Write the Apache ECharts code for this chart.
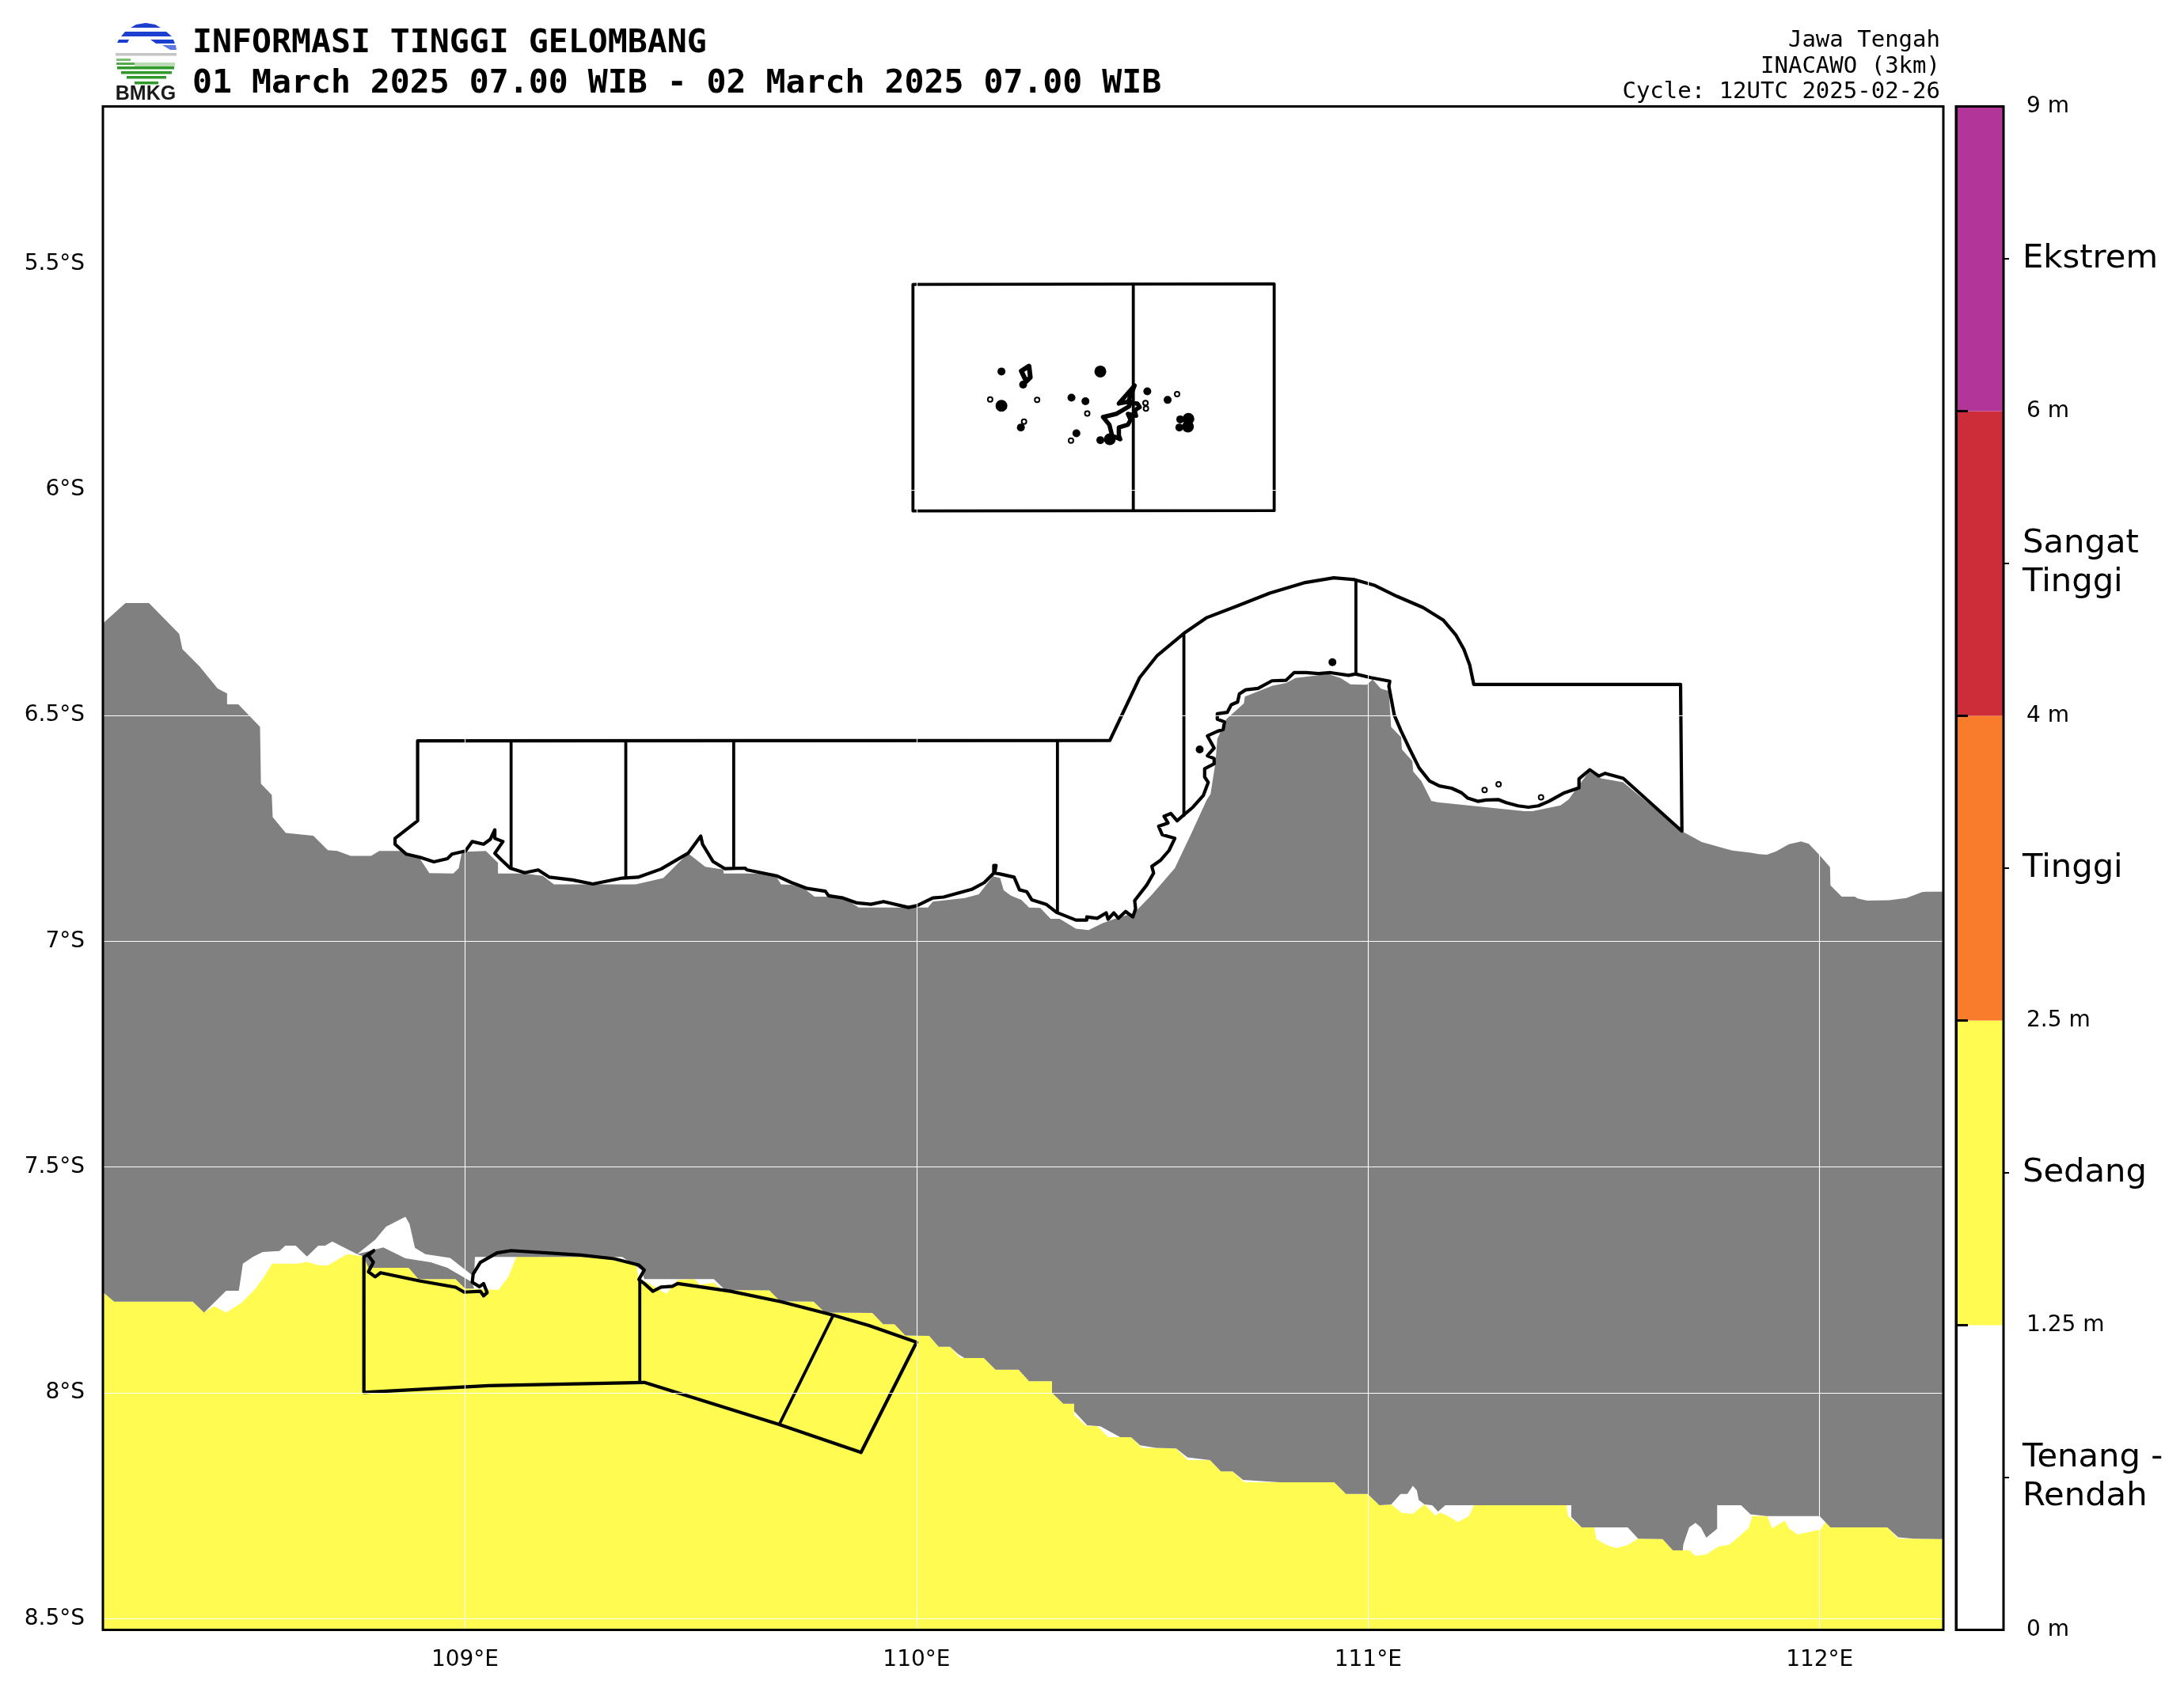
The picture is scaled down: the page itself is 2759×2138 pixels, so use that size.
<!DOCTYPE html>
<html>
<head>
<meta charset="utf-8">
<style>html,body{margin:0;padding:0;background:#fff}#chart{width:2759px;height:2138px}</style>
<script src="https://cdn.jsdelivr.net/npm/echarts@6/dist/echarts.min.js"></script>
</head>
<body>
<div id="chart"></div>
<script>
const lonMin = 108.198, lonMax = 112.274, latMin = -8.525, latMax = -5.151;
const lonTicks = [109, 110, 111, 112];
const latTicks = [-8.5, -8, -7.5, -7, -6.5, -6, -5.5];
const classNames = ['Tenang -\nRendah', 'Sedang', 'Tinggi', 'Sangat\nTinggi', 'Ekstrem'];
const classColors = ['#ffffff', '#FFFB50', '#F97C2C', '#CD2C39', '#B2359A'];
const levelLabels = ['0 m', '1.25 m', '2.5 m', '4 m', '6 m', '9 m'];

const grayNorthEdge = [[108.198,-6.296],[108.248,-6.251],[108.300,-6.251],[108.367,-6.319],[108.374,-6.353],[108.412,-6.391],[108.452,-6.440],[108.473,-6.451],[108.473,-6.475],[108.498,-6.475],[108.546,-6.525],[108.548,-6.651],[108.572,-6.676],[108.574,-6.725],[108.603,-6.760],[108.664,-6.766],[108.696,-6.798],[108.717,-6.800],[108.747,-6.811],[108.792,-6.811],[108.810,-6.800],[108.860,-6.800],[108.900,-6.817],[108.921,-6.849],[108.974,-6.850],[108.986,-6.838],[108.993,-6.802],[109.046,-6.800],[109.073,-6.826],[109.073,-6.850],[109.132,-6.850],[109.172,-6.855],[109.197,-6.874],[109.378,-6.874],[109.439,-6.860],[109.494,-6.805],[109.532,-6.835],[109.572,-6.841],[109.573,-6.850],[109.685,-6.850],[109.700,-6.874],[109.723,-6.875],[109.751,-6.883],[109.774,-6.901],[109.805,-6.901],[109.841,-6.905],[109.872,-6.925],[110.025,-6.925],[110.036,-6.912],[110.107,-6.904],[110.138,-6.896],[110.169,-6.856],[110.185,-6.860],[110.193,-6.887],[110.209,-6.899],[110.232,-6.908],[110.249,-6.925],[110.274,-6.926],[110.297,-6.950],[110.317,-6.950],[110.353,-6.972],[110.381,-6.975],[110.412,-6.960],[110.439,-6.950],[110.482,-6.937],[110.522,-6.896],[110.572,-6.838],[110.608,-6.762],[110.643,-6.686],[110.651,-6.674],[110.662,-6.604],[110.666,-6.552],[110.686,-6.508],[110.725,-6.473],[110.727,-6.458],[110.788,-6.434],[110.819,-6.428],[110.839,-6.417],[110.912,-6.408],[110.939,-6.417],[110.961,-6.431],[110.997,-6.432],[111.010,-6.420],[111.028,-6.440],[111.046,-6.446],[111.051,-6.525],[111.073,-6.548],[111.075,-6.575],[111.098,-6.601],[111.100,-6.624],[111.118,-6.645],[111.140,-6.689],[111.154,-6.692],[111.346,-6.712],[111.364,-6.712],[111.426,-6.699],[111.444,-6.686],[111.489,-6.624],[111.516,-6.639],[111.565,-6.648],[111.695,-6.756],[111.739,-6.780],[111.792,-6.795],[111.807,-6.799],[111.848,-6.804],[111.865,-6.807],[111.883,-6.808],[111.903,-6.801],[111.932,-6.785],[111.959,-6.779],[111.976,-6.784],[111.999,-6.808],[112.023,-6.836],[112.024,-6.876],[112.049,-6.901],[112.078,-6.901],[112.084,-6.905],[112.105,-6.910],[112.154,-6.909],[112.192,-6.904],[112.227,-6.891],[112.236,-6.890],[112.274,-6.890]];

const graySouthEdge = [[108.198,-7.777],[108.223,-7.798],[108.397,-7.798],[108.422,-7.822],[108.471,-7.774],[108.499,-7.774],[108.508,-7.714],[108.530,-7.699],[108.552,-7.688],[108.589,-7.686],[108.602,-7.674],[108.625,-7.674],[108.650,-7.698],[108.675,-7.674],[108.690,-7.674],[108.706,-7.665],[108.761,-7.693],[108.801,-7.661],[108.825,-7.632],[108.868,-7.610],[108.877,-7.626],[108.889,-7.679],[108.912,-7.693],[108.967,-7.701],[109.020,-7.743],[109.022,-7.699],[109.348,-7.699],[109.391,-7.728],[109.397,-7.748],[109.551,-7.748],[109.576,-7.772],[109.674,-7.773],[109.698,-7.797],[109.772,-7.798],[109.797,-7.822],[109.902,-7.823],[109.926,-7.848],[109.951,-7.848],[109.975,-7.873],[110.028,-7.874],[110.049,-7.898],[110.074,-7.898],[110.092,-7.914],[110.106,-7.923],[110.149,-7.923],[110.175,-7.949],[110.226,-7.949],[110.249,-7.974],[110.300,-7.974],[110.300,-8.000],[110.325,-8.024],[110.349,-8.024],[110.349,-8.041],[110.378,-8.072],[110.407,-8.074],[110.451,-8.098],[110.475,-8.098],[110.495,-8.116],[110.530,-8.122],[110.575,-8.123],[110.600,-8.143],[110.650,-8.149],[110.674,-8.174],[110.700,-8.174],[110.723,-8.193],[110.804,-8.198],[110.925,-8.198],[110.951,-8.224],[110.999,-8.224],[111.025,-8.249],[111.051,-8.247],[111.072,-8.224],[111.087,-8.224],[111.099,-8.206],[111.108,-8.216],[111.112,-8.237],[111.125,-8.247],[111.142,-8.249],[111.155,-8.263],[111.171,-8.249],[111.235,-8.249],[111.439,-8.249],[111.450,-8.249],[111.450,-8.275],[111.473,-8.298],[111.575,-8.298],[111.598,-8.323],[111.652,-8.324],[111.675,-8.349],[111.697,-8.349],[111.698,-8.336],[111.711,-8.298],[111.725,-8.288],[111.737,-8.298],[111.749,-8.321],[111.773,-8.301],[111.773,-8.249],[111.826,-8.249],[111.847,-8.269],[111.884,-8.273],[112.000,-8.273],[112.024,-8.298],[112.150,-8.298],[112.174,-8.320],[112.208,-8.323],[112.274,-8.324]];

const grayWedge = [[108.761,-7.693],[108.819,-7.678],[108.868,-7.702],[108.924,-7.711],[108.961,-7.723],[109.016,-7.755],[109.020,-7.769],[109.000,-7.769],[108.979,-7.748],[108.897,-7.748],[108.875,-7.723],[108.786,-7.723],[108.776,-7.698]];

const yellowTopEdge = [[108.198,-7.777],[108.223,-7.798],[108.397,-7.798],[108.422,-7.822],[108.444,-7.808],[108.471,-7.822],[108.506,-7.800],[108.536,-7.769],[108.555,-7.743],[108.573,-7.714],[108.629,-7.714],[108.650,-7.710],[108.678,-7.718],[108.696,-7.718],[108.739,-7.693],[108.776,-7.698],[108.786,-7.723],[108.875,-7.723],[108.897,-7.748],[108.979,-7.748],[109.000,-7.769],[109.074,-7.772],[109.096,-7.743],[109.114,-7.699],[109.330,-7.699],[109.379,-7.717],[109.385,-7.748],[109.403,-7.755],[109.446,-7.781],[109.471,-7.750],[109.508,-7.748],[109.520,-7.761],[109.551,-7.756],[109.569,-7.772],[109.674,-7.773],[109.698,-7.797],[109.772,-7.798],[109.797,-7.822],[109.902,-7.823],[109.926,-7.848],[109.951,-7.848],[109.975,-7.873],[110.028,-7.874],[110.049,-7.898],[110.074,-7.898],[110.097,-7.923],[110.149,-7.923],[110.175,-7.949],[110.226,-7.949],[110.249,-7.974],[110.300,-7.974],[110.300,-8.000],[110.325,-8.024],[110.349,-8.024],[110.349,-8.049],[110.375,-8.073],[110.400,-8.074],[110.425,-8.098],[110.475,-8.098],[110.499,-8.122],[110.575,-8.123],[110.600,-8.149],[110.650,-8.149],[110.674,-8.174],[110.700,-8.174],[110.726,-8.198],[110.925,-8.198],[110.951,-8.224],[110.999,-8.224],[111.025,-8.249],[111.051,-8.247],[111.075,-8.266],[111.099,-8.268],[111.125,-8.247],[111.149,-8.272],[111.159,-8.265],[111.176,-8.272],[111.199,-8.286],[111.223,-8.273],[111.235,-8.249],[111.439,-8.249],[111.443,-8.273],[111.473,-8.298],[111.501,-8.298],[111.505,-8.324],[111.528,-8.337],[111.550,-8.344],[111.575,-8.337],[111.598,-8.323],[111.652,-8.324],[111.675,-8.349],[111.711,-8.349],[111.725,-8.361],[111.749,-8.358],[111.775,-8.341],[111.800,-8.336],[111.822,-8.318],[111.843,-8.299],[111.851,-8.273],[111.884,-8.273],[111.895,-8.300],[111.923,-8.283],[111.932,-8.300],[111.951,-8.314],[112.002,-8.303],[112.013,-8.286],[112.024,-8.298],[112.150,-8.298],[112.174,-8.323],[112.274,-8.324]];

const northOutline = [[108.895,-6.733],[108.895,-6.556],[110.428,-6.555],[110.494,-6.416],[110.533,-6.367],[110.592,-6.318],[110.643,-6.283],[110.711,-6.257],[110.782,-6.229],[110.858,-6.206],[110.924,-6.195],[110.970,-6.199],[111.015,-6.212],[111.064,-6.236],[111.122,-6.261],[111.167,-6.289],[111.194,-6.321],[111.212,-6.353],[111.225,-6.388],[111.234,-6.431],[111.692,-6.431],[111.695,-6.756],[111.565,-6.639],[111.525,-6.628],[111.511,-6.634],[111.491,-6.620],[111.467,-6.640],[111.467,-6.660],[111.435,-6.671],[111.400,-6.690],[111.377,-6.700],[111.355,-6.703],[111.332,-6.700],[111.306,-6.693],[111.288,-6.686],[111.261,-6.687],[111.243,-6.690],[111.221,-6.683],[111.207,-6.671],[111.185,-6.661],[111.158,-6.656],[111.136,-6.645],[111.113,-6.616],[111.091,-6.572],[111.073,-6.534],[111.058,-6.499],[111.046,-6.435],[111.048,-6.424],[111.006,-6.416],[110.972,-6.408],[110.957,-6.411],[110.917,-6.405],[110.890,-6.407],[110.863,-6.405],[110.836,-6.405],[110.818,-6.422],[110.787,-6.423],[110.756,-6.440],[110.729,-6.443],[110.715,-6.452],[110.711,-6.470],[110.697,-6.476],[110.688,-6.493],[110.666,-6.496],[110.666,-6.508],[110.682,-6.514],[110.679,-6.531],[110.666,-6.535],[110.644,-6.545],[110.659,-6.572],[110.644,-6.589],[110.659,-6.595],[110.659,-6.607],[110.638,-6.618],[110.638,-6.636],[110.646,-6.648],[110.635,-6.677],[110.612,-6.703],[110.592,-6.720],[110.577,-6.733],[110.563,-6.717],[110.548,-6.723],[110.557,-6.738],[110.536,-6.745],[110.544,-6.764],[110.572,-6.772],[110.559,-6.799],[110.541,-6.820],[110.521,-6.834],[110.525,-6.849],[110.510,-6.875],[110.483,-6.910],[110.485,-6.928],[110.479,-6.946],[110.463,-6.934],[110.447,-6.949],[110.437,-6.937],[110.424,-6.951],[110.420,-6.937],[110.400,-6.949],[110.377,-6.946],[110.377,-6.953],[110.353,-6.953],[110.310,-6.936],[110.287,-6.918],[110.255,-6.908],[110.244,-6.890],[110.228,-6.886],[110.216,-6.858],[110.185,-6.851],[110.173,-6.849],[110.176,-6.832],[110.171,-6.832],[110.171,-6.849],[110.150,-6.870],[110.122,-6.885],[110.060,-6.902],[110.036,-6.904],[110.001,-6.921],[109.982,-6.925],[109.927,-6.912],[109.899,-6.918],[109.868,-6.915],[109.837,-6.904],[109.805,-6.899],[109.798,-6.889],[109.758,-6.883],[109.723,-6.870],[109.690,-6.855],[109.660,-6.849],[109.625,-6.842],[109.620,-6.838],[109.575,-6.839],[109.549,-6.823],[109.526,-6.785],[109.522,-6.767],[109.494,-6.805],[109.434,-6.840],[109.383,-6.858],[109.348,-6.860],[109.283,-6.873],[109.238,-6.864],[109.187,-6.858],[109.162,-6.842],[109.132,-6.848],[109.100,-6.838],[109.081,-6.820],[109.066,-6.805],[109.084,-6.779],[109.066,-6.772],[109.066,-6.753],[109.056,-6.774],[109.041,-6.785],[109.016,-6.779],[109.001,-6.800],[108.971,-6.807],[108.961,-6.817],[108.931,-6.824],[108.900,-6.814],[108.870,-6.807],[108.845,-6.785],[108.845,-6.772],[108.895,-6.733]];

const northDividers = [
  [[109.102,-6.556],[109.102,-6.838]],
  [[109.356,-6.556],[109.356,-6.858]],
  [[109.595,-6.556],[109.595,-6.838]],
  [[110.312,-6.555],[110.312,-6.936]],
  [[110.592,-6.321],[110.592,-6.721]],
  [[110.973,-6.201],[110.973,-6.408]]
];

const southOutline = [[108.776,-7.699],[108.776,-7.999],[109.053,-7.984],[109.397,-7.977],[109.696,-8.070],[109.877,-8.132],[110.000,-7.888],[109.895,-7.851],[109.815,-7.828],[109.699,-7.798],[109.588,-7.775],[109.471,-7.758],[109.459,-7.764],[109.434,-7.766],[109.416,-7.775],[109.397,-7.758],[109.385,-7.749],[109.397,-7.728],[109.385,-7.717],[109.330,-7.703],[109.256,-7.695],[109.102,-7.685],[109.071,-7.690],[109.034,-7.711],[109.018,-7.737],[109.016,-7.755],[109.032,-7.765],[109.041,-7.758],[109.049,-7.778],[109.041,-7.785],[109.034,-7.775],[108.998,-7.777],[108.979,-7.766],[108.899,-7.752],[108.813,-7.734],[108.801,-7.743],[108.786,-7.732],[108.797,-7.711],[108.786,-7.696],[108.798,-7.685],[108.776,-7.699]];

const southDividers = [
  [[109.387,-7.752],[109.387,-7.977]],
  [[109.815,-7.829],[109.696,-8.070]]
];

const karimunBox = [[109.992,-5.545],[110.792,-5.544],[110.792,-6.046],[109.992,-6.047],[109.992,-5.545]];
const karimunDivider = [[110.480,-5.544],[110.480,-6.046]];
const karimunMain = [[110.413,-5.839],[110.442,-5.832],[110.471,-5.815],[110.474,-5.804],[110.448,-5.809],[110.483,-5.769],[110.468,-5.807],[110.489,-5.809],[110.494,-5.817],[110.483,-5.824],[110.486,-5.836],[110.468,-5.832],[110.474,-5.845],[110.468,-5.856],[110.448,-5.862],[110.448,-5.880],[110.451,-5.888],[110.433,-5.880],[110.427,-5.856],[110.413,-5.839]];
const karimunNorth = [[110.232,-5.737],[110.249,-5.726],[110.252,-5.751],[110.243,-5.760],[110.232,-5.737]];
const smallIslets = [[110.188,-5.738],[110.236,-5.767],[110.231,-5.862],[110.343,-5.796],[110.374,-5.804],[110.511,-5.782],[110.354,-5.875],[110.407,-5.890],[110.556,-5.801],[110.584,-5.844],[110.582,-5.862],[110.627,-6.575],[110.921,-6.382]];
const largeIslets = [[110.188,-5.814],[110.407,-5.738],[110.428,-5.888],[110.602,-5.843],[110.601,-5.860]];
const tinyIslets = [[110.163,-5.800],[110.267,-5.801],[110.238,-5.849],[110.378,-5.831],[110.342,-5.891],[110.507,-5.808],[110.508,-5.820],[110.577,-5.788],[111.258,-6.665],[111.289,-6.652],[111.383,-6.681]];

function polygonSeries(points, color, z) {
  return {
    type: 'custom', coordinateSystem: 'cartesian2d', xAxisIndex: 0, yAxisIndex: 0,
    data: points, z: z, clip: true, silent: true,
    encode: {x: 0, y: 1},
    renderItem: function (params, api) {
      if (params.dataIndex !== 0) return null;
      return {
        type: 'polygon',
        shape: {points: points.map(function (p) { return api.coord(p); })},
        style: {fill: color, stroke: null}
      };
    }
  };
}
function lineSeries(points, width) {
  return {
    type: 'line', xAxisIndex: 0, yAxisIndex: 0, data: points, showSymbol: false, z: 5, silent: true,
    lineStyle: {color: '#000', width: width, join: 'round', cap: 'round'}
  };
}
function dotSeries(points, size, fill, border) {
  return {
    type: 'scatter', xAxisIndex: 0, yAxisIndex: 0, data: points, symbol: 'circle', symbolSize: size, z: 6, silent: true,
    itemStyle: {color: fill, borderColor: '#000', borderWidth: border, opacity: 1}
  };
}

const yellowPolygon = yellowTopEdge.concat([[lonMax, latMin], [lonMin, latMin]]);
const grayPolygon = grayNorthEdge.concat(graySouthEdge.slice().reverse());

const series = [
  polygonSeries(yellowPolygon, classColors[1], 2),
  polygonSeries(grayPolygon, '#808080', 3),
  polygonSeries(grayWedge, '#808080', 3),
  lineSeries(northOutline, 4.2),
  lineSeries(southOutline, 4.2),
  lineSeries(karimunBox, 3.8),
  lineSeries(karimunDivider, 3.8),
  lineSeries(karimunMain, 5.5),
  lineSeries(karimunNorth, 6),
  dotSeries(smallIslets, 10, '#000', 0),
  dotSeries(largeIslets, 15, '#000', 0),
  dotSeries(tinyIslets, 6, '#fff', 2)
].concat(northDividers.map(function (d) { return lineSeries(d, 3.8); }))
 .concat(southDividers.map(function (d) { return lineSeries(d, 3.8); }));

series.push({
  type: 'bar', xAxisIndex: 1, yAxisIndex: 2, barWidth: '100%', z: 2, silent: true,
  data: classColors.map(function (c) { return {value: 1, itemStyle: {color: c}}; })
});

const tickFont = {color: '#000', fontFamily: 'DejaVu Sans', fontSize: 28};

const option = {
  backgroundColor: '#fff',
  animation: false,
  grid: [
    {left: 130, top: 134.5, width: 2325, height: 1925},
    {left: 2471, top: 134.5, width: 60, height: 1925}
  ],
  xAxis: [
    {type: 'value', gridIndex: 0, min: lonMin, max: lonMax, z: 20, position: 'bottom',
      axisLine: {show: false},
      axisTick: {show: false, customValues: lonTicks},
      splitLine: {show: true, lineStyle: {color: '#fff', width: 1.1}},
      axisLabel: Object.assign({customValues: lonTicks, margin: 24, formatter: function (v) { return v + '°E'; }}, tickFont)},
    {type: 'value', gridIndex: 1, min: 0, max: 1, show: false}
  ],
  yAxis: [
    {type: 'value', gridIndex: 0, min: latMin, max: latMax, z: 20, position: 'left',
      axisLine: {show: false},
      axisTick: {show: false, customValues: latTicks},
      splitLine: {show: true, lineStyle: {color: '#fff', width: 1.1}},
      axisLabel: Object.assign({customValues: latTicks, margin: 23, padding: [3, 0, 0, 0], formatter: function (v) { return Math.abs(v) + '°S'; }}, tickFont)},
    {type: 'value', gridIndex: 1, min: 0, max: 5, interval: 1, position: 'right', z: 10,
      axisLine: {show: true, lineStyle: {color: '#000', width: 3}},
      axisTick: {show: true, length: 15, lineStyle: {color: '#000', width: 3}},
      splitLine: {show: false},
      axisLabel: Object.assign({margin: 29, padding: [5, 0, 0, 0], formatter: function (v) { return levelLabels[Math.round(v)]; }}, tickFont)},
    {type: 'category', gridIndex: 1, data: classNames, position: 'right', z: 10,
      axisLine: {show: false},
      axisTick: {show: true, alignWithLabel: true, length: 7, lineStyle: {color: '#000', width: 2}},
      splitLine: {show: false},
      axisLabel: {margin: 24, padding: [11, 0, 0, 0], color: '#000', fontFamily: 'DejaVu Sans', fontSize: 41.7, lineHeight: 49, align: 'left'}}
  ],
  series: series,
  graphic: {elements: [
    {type: 'rect', z: 100, silent: true, shape: {x: 130, y: 134.5, width: 2325, height: 1925}, style: {fill: null, stroke: '#000', lineWidth: 3}},
    {type: 'rect', z: 100, silent: true, shape: {x: 2471, y: 134.5, width: 60, height: 1925}, style: {fill: null, stroke: '#000', lineWidth: 3}},
    {type: 'text', z: 100, silent: true, x: 243, y: 55.5, style: {text: 'INFORMASI TINGGI GELOMBANG', font: 'bold 41.5px "DejaVu Sans Mono"', fill: '#000', textVerticalAlign: 'middle'}},
    {type: 'text', z: 100, silent: true, x: 243, y: 106, style: {text: '01 March 2025 07.00 WIB - 02 March 2025 07.00 WIB', font: 'bold 41.5px "DejaVu Sans Mono"', fill: '#000', textVerticalAlign: 'middle'}},
    {type: 'text', z: 100, silent: true, x: 2451, y: 51, style: {text: 'Jawa Tengah', font: '29px "DejaVu Sans Mono"', fill: '#000', textAlign: 'right', textVerticalAlign: 'middle'}},
    {type: 'text', z: 100, silent: true, x: 2451, y: 84, style: {text: 'INACAWO (3km)', font: '29px "DejaVu Sans Mono"', fill: '#000', textAlign: 'right', textVerticalAlign: 'middle'}},
    {type: 'text', z: 100, silent: true, x: 2451, y: 116, style: {text: 'Cycle: 12UTC 2025-02-26', font: '29px "DejaVu Sans Mono"', fill: '#000', textAlign: 'right', textVerticalAlign: 'middle'}},
    {type: 'polygon', silent: true, shape: {points: [[165,35],[172,31],[184,29],[196,31],[203,35]]}, style: {fill: '#1c3fd0'}},
    {type: 'polygon', silent: true, shape: {points: [[153,46],[158,40],[210,40],[217,46]]}, style: {fill: '#1c3fd0'}},
    {type: 'polygon', silent: true, shape: {points: [[148,54],[150,50],[163,50],[161,54]]}, style: {fill: '#1c3fd0'}},
    {type: 'polygon', silent: true, shape: {points: [[190,50],[219,50],[221,55],[197,55]]}, style: {fill: '#1c3fd0'}},
    {type: 'polygon', silent: true, shape: {points: [[205,57],[222,57],[223,63],[215,63]]}, style: {fill: '#5f78e0'}},
    {type: 'rect', silent: true, shape: {x: 146, y: 67, width: 77, height: 3.5}, style: {fill: '#c4c4c4'}},
    {type: 'rect', silent: true, shape: {x: 147, y: 74, width: 18, height: 3}, style: {fill: '#7fbf75'}},
    {type: 'rect', silent: true, shape: {x: 147, y: 79, width: 26, height: 3}, style: {fill: '#55a84d'}},
    {type: 'rect', silent: true, shape: {x: 170, y: 79, width: 51, height: 5}, style: {fill: '#b9dcb4'}},
    {type: 'rect', silent: true, shape: {x: 148, y: 84, width: 72, height: 3.5}, style: {fill: '#2f9a2a'}},
    {type: 'rect', silent: true, shape: {x: 153, y: 90, width: 64, height: 3.5}, style: {fill: '#2f9a2a'}},
    {type: 'rect', silent: true, shape: {x: 160, y: 96, width: 50, height: 3.5}, style: {fill: '#2f9a2a'}},
    {type: 'rect', silent: true, shape: {x: 170, y: 103, width: 30, height: 3.5}, style: {fill: '#2f9a2a'}},
    {type: 'text', silent: true, x: 184, y: 119, style: {text: 'BMKG', font: 'bold 25px "Liberation Sans"', fill: '#1a1a1a', textAlign: 'center', textVerticalAlign: 'middle'}}
  ]}
};
const chart = echarts.init(document.getElementById('chart'), null, {width: 2759, height: 2138});
chart.setOption(option);
</script>
</body>
</html>
